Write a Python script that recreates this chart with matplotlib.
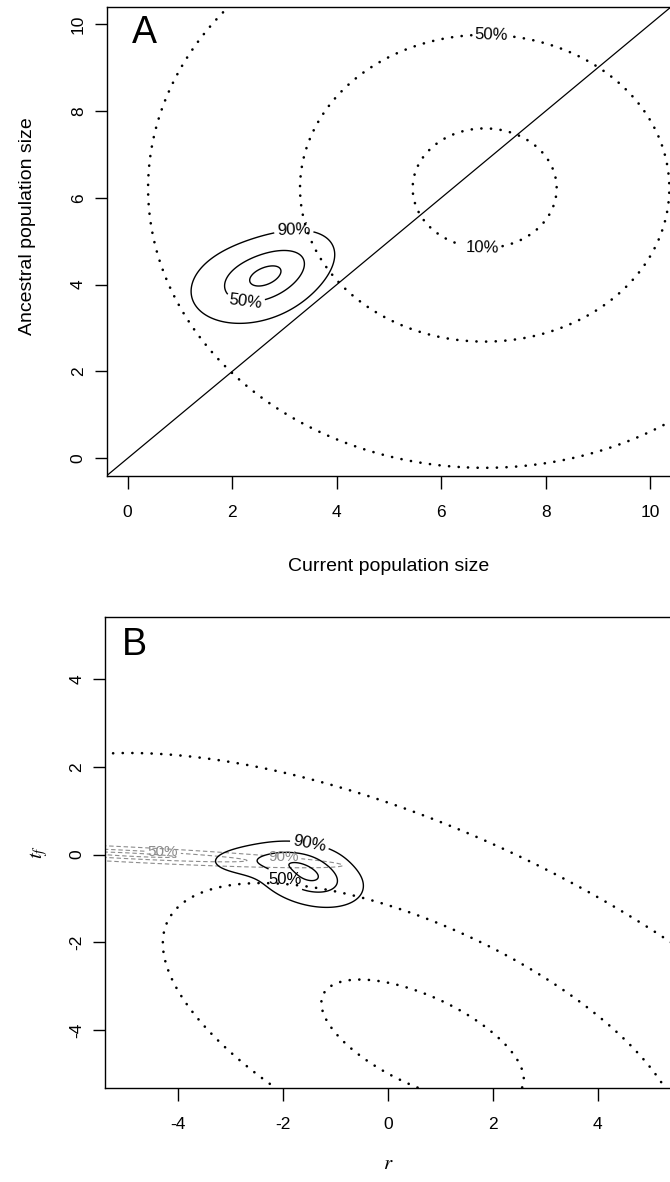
import numpy as np
import matplotlib
matplotlib.use("Agg")
import matplotlib.pyplot as plt

plt.rcParams['font.family'] = ['Liberation Sans', 'DejaVu Sans']
plt.rcParams['axes.unicode_minus'] = False

# ---------------- data ----------------
hpd_probs = [0.9, 0.5, 0.1]          # credible-region masses (outer -> inner)
hpd_names = ['90%', '50%', '10%']

# Panel A: log10 current / ancestral population size
priorA_mean = [6.83, 6.22]
priorA_sd = [3.0, 3.0]
priorA_rho = 0.0
postA_means = [[2.35, 4.03], [2.9, 4.38]]
postA_sds = [[0.60, 0.48], [0.55, 0.45]]
postA_rhos = [0.20, 0.40]
postA_weights = [0.55, 0.45]

# Panel B: r and t_f
priorB_mean = [0.66, -4.25]
priorB_sd = [4.21, 3.06]
priorB_rho = -0.62
postB_means = [[-1.5, -0.48], [-2.3, -0.12]]
postB_sds = [[0.50, 0.35], [0.60, 0.20]]
postB_rhos = [-0.32, 0.08]
postB_weights = [0.75, 0.25]
altB_mean = [-4.9, 0.0]
altB_sd = [1.88, 0.139]
altB_rho = -0.815

ticksA = [0, 2, 4, 6, 8, 10]
ticksB = [-4, -2, 0, 2, 4]


# ---------------- helpers ----------------
def bvn(X, Y, mean, sd, rho):
    zx = (X - mean[0]) / sd[0]
    zy = (Y - mean[1]) / sd[1]
    q = (zx ** 2 - 2 * rho * zx * zy + zy ** 2) / (1 - rho ** 2)
    return np.exp(-q / 2) / (2 * np.pi * sd[0] * sd[1] * np.sqrt(1 - rho ** 2))


def mixture(X, Y, weights, means, sds, rhos):
    return sum(w * bvn(X, Y, m, s, r) for w, m, s, r in
               zip(weights, means, sds, rhos))


def grid(x0, x1, y0, y1, step):
    x = np.arange(x0, x1, step)
    y = np.arange(y0, y1, step)
    return np.meshgrid(x, y)


def hpd_levels(Z, probs):
    z = np.sort(Z.ravel())[::-1]
    c = np.cumsum(z)
    c /= c[-1]
    return [z[min(np.searchsorted(c, p), len(z) - 1)] for p in probs]


dotted = (0, (0.05, 3.6))


def draw_density(ax, X, Y, Z, style, color='black', lw=1.0, labels=None,
                 fs=12, flat=()):
    """labels: dict name -> (x, y) position for the contour label"""
    lev = hpd_levels(Z, hpd_probs)
    labels = labels or {}
    for l, name in zip(lev, hpd_names):
        cs = ax.contour(X, Y, Z, levels=[l], colors=color, linewidths=lw,
                        linestyles=[style])
        if style is dotted:
            cs.set_capstyle('round')
        if name in labels:
            txts = ax.clabel(cs, levels=[l], fmt={l: name},
                             manual=[labels[name]], inline=True, fontsize=fs,
                             colors=color, inline_spacing=3)
            if name in flat:
                for t in txts:
                    t.set_rotation(0)


fig = plt.figure(figsize=(6.70, 11.82), dpi=100)
W, H = 670.0, 1182.0


def place(left, top, right, bottom):
    return [left / W, 1 - bottom / H, (right - left) / W, (bottom - top) / H]


# ---------------- Panel A ----------------
axA = fig.add_axes(place(106.7, 6.7, 671.3, 475.7))
axA.set_xlim(-0.4, 10.4)
axA.set_ylim(-0.4, 10.4)

X, Y = grid(-9, 23, -9, 22, 0.03)
Z = bvn(X, Y, priorA_mean, priorA_sd, priorA_rho)
draw_density(axA, X, Y, Z, dotted, lw=1.9,
             labels={'50%': (6.95, 9.7), '10%': (6.8, 4.95)})

X, Y = grid(-1.5, 7, 0, 8.5, 0.01)
Z = mixture(X, Y, postA_weights, postA_means, postA_sds, postA_rhos)
draw_density(axA, X, Y, Z, 'solid', lw=1.0,
             labels={'90%': (3.18, 5.23), '50%': (2.26, 3.7)})

axA.axline((0, 0), slope=1, color='black', lw=0.9)

axA.set_xticks(ticksA)
axA.set_yticks(ticksA)
axA.set_xlabel('Current population size', fontsize=14)
axA.xaxis.set_label_coords(0.5, -0.175)
axA.set_ylabel('Ancestral population size', fontsize=14, va='center')
axA.yaxis.set_label_coords(-0.140, 0.532)
axA.text(0.044, 0.922, 'A', transform=axA.transAxes, fontsize=27,
         ha='left', va='baseline')

# ---------------- Panel B ----------------
axB = fig.add_axes(place(105.0, 616.8, 671.0, 1087.7))
axB.set_xlim(-5.4, 5.4)
axB.set_ylim(-5.31, 5.42)

X, Y = grid(-18, 19, -19, 11, 0.03)
Z = bvn(X, Y, priorB_mean, priorB_sd, priorB_rho)
draw_density(axB, X, Y, Z, dotted, lw=1.9)

X, Y = grid(-14, 3, -3, 2.5, 0.01)
Zalt = bvn(X, Y, altB_mean, altB_sd, altB_rho)
draw_density(axB, X, Y, Zalt, (0, (4, 2.5)), color='#8c8c8c', lw=0.8,
             labels={'50%': (-4.3, 0.06), '90%': (-2.0, -0.05)}, fs=11,
             flat=('50%', '90%'))

X, Y = grid(-6, 2, -3, 2, 0.01)
Z = mixture(X, Y, postB_weights, postB_means, postB_sds, postB_rhos)
draw_density(axB, X, Y, Z, 'solid', lw=1.0,
             labels={'90%': (-1.51, 0.16), '50%': (-2.1, -0.78)}, flat=('50%',))

axB.set_xticks(ticksB)
axB.set_yticks(ticksB)
axB.set_xlabel('$r$', fontsize=15, math_fontfamily='stix')
axB.xaxis.set_label_coords(0.5, -0.140)
axB.set_ylabel('$t_f$', fontsize=15, va='center', math_fontfamily='stix')
axB.yaxis.set_label_coords(-0.117, 0.5)
axB.text(0.0295, 0.919, 'B', transform=axB.transAxes, fontsize=27,
         ha='left', va='baseline')

for ax in (axA, axB):
    ax.tick_params(direction='out', length=9, width=1.0, labelsize=12.5,
                   pad=12)
    ax.tick_params(axis='y', pad=6)
    for lab in ax.get_yticklabels():
        lab.set_rotation(90)
        lab.set_va('center')
    for sp in ax.spines.values():
        sp.set_linewidth(1.0)

fig.savefig('out.png', dpi=100)
